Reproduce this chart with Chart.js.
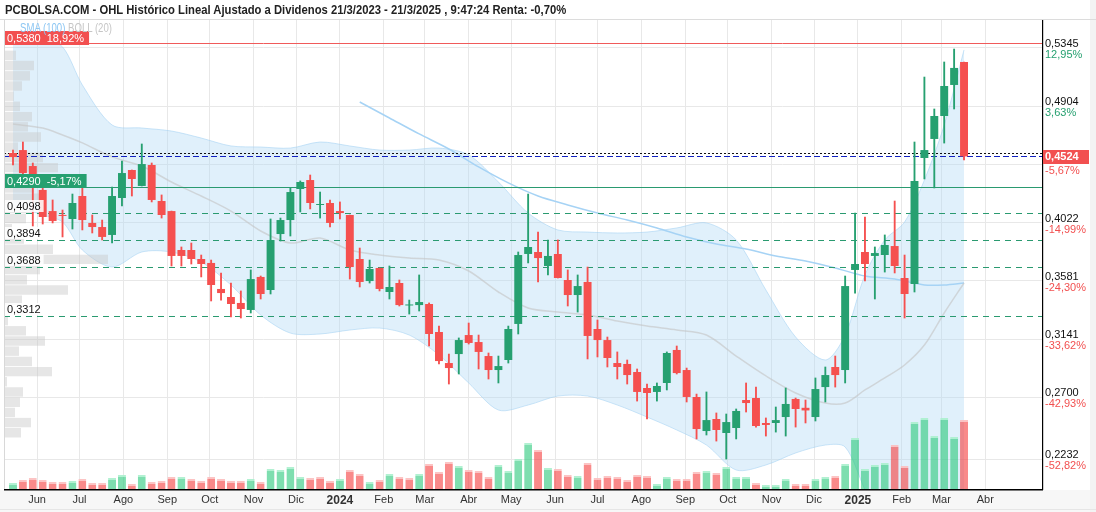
<!DOCTYPE html>
<html><head><meta charset="utf-8">
<script src="https://cdn.jsdelivr.net/npm/chart.js@4.4.1/dist/chart.umd.min.js"></script>
<style>
html,body{margin:0;padding:0;background:#fff;}
#wrap{position:relative;width:1096px;height:512px;overflow:hidden;}
#c{position:absolute;left:0;top:0;}
#header{position:absolute;left:0;top:0;width:1096px;height:20px;border-bottom:1px solid #dcdcdc;box-sizing:border-box;padding-left:5px;
 font:bold 13px "Liberation Sans",Arial,sans-serif;color:#222;line-height:20px;white-space:nowrap;}
#header span{display:inline-block;transform:scaleX(0.866);transform-origin:0 50%;}
#legend{position:absolute;left:20px;top:21px;font:12px "Liberation Sans",Arial,sans-serif;line-height:14px;white-space:nowrap;transform:scaleX(0.8);transform-origin:0 50%;}
</style></head>
<body><div id="wrap">
<canvas id="c" width="1096" height="512" style="width:1096px;height:512px"></canvas>
<div id="header"><span>PCBOLSA.COM - OHL Histórico Lineal Ajustado a Dividenos 21/3/2023 - 21/3/2025 , 9:47:24 Renta: -0,70%</span></div>
<div id="legend"><span style="color:#8cc6f3">SMA (100)</span> <span style="color:#c6c6c6">BOLL (20)</span></div>
</div>
<script>
// ---------- DATA ----------
const weeks = ['2023-05-15','2023-05-22','2023-05-29','2023-06-05','2023-06-12','2023-06-19','2023-06-26','2023-07-03','2023-07-10','2023-07-17',
'2023-07-24','2023-07-31','2023-08-07','2023-08-14','2023-08-21','2023-08-28','2023-09-04','2023-09-11','2023-09-18','2023-09-25',
'2023-10-02','2023-10-09','2023-10-16','2023-10-23','2023-10-30','2023-11-06','2023-11-13','2023-11-20','2023-11-27','2023-12-04',
'2023-12-11','2023-12-18','2023-12-25','2024-01-01','2024-01-08','2024-01-15','2024-01-22','2024-01-29','2024-02-05','2024-02-12',
'2024-02-19','2024-02-26','2024-03-04','2024-03-11','2024-03-18','2024-03-25','2024-04-01','2024-04-08','2024-04-15','2024-04-22',
'2024-04-29','2024-05-06','2024-05-13','2024-05-20','2024-05-27','2024-06-03','2024-06-10','2024-06-17','2024-06-24','2024-07-01',
'2024-07-08','2024-07-15','2024-07-22','2024-07-29','2024-08-05','2024-08-12','2024-08-19','2024-08-26','2024-09-02','2024-09-09',
'2024-09-16','2024-09-23','2024-09-30','2024-10-07','2024-10-14','2024-10-21','2024-10-28','2024-11-04','2024-11-11','2024-11-18',
'2024-11-25','2024-12-02','2024-12-09','2024-12-16','2024-12-23','2024-12-30','2025-01-06','2025-01-13','2025-01-20','2025-01-27',
'2025-02-03','2025-02-10','2025-02-17','2025-02-24','2025-03-03','2025-03-10','2025-03-17'];

const open = [.4550,.4572,.4451,.4270,.4110,.4080,.4050,.4224,.4020,.3989,
 .3929,.4209,.4421,.4300,.4459,.4186,.4110,.3815,.3815,.3747,
 .3717,.3520,.3459,.3414,.3361,.3611,.3512,.3936,.4042,.4277,
 .4345,.4156,.4171,.4110,.4080,.3747,.3580,.3679,.3497,.3565,
 .3395,.3398,.3406,.3194,.2959,.3027,.3171,.3118,.3012,.2906,
 .2982,.3255,.3785,.3800,.3694,.3785,.3588,.3474,.3573,.3217,
 .3133,.2959,.2952,.2891,.2770,.2740,.2808,.3058,.2906,.2702,
 .2444,.2535,.2429,.2467,.2679,.2694,.2505,.2505,.2550,.2687,
 .2620,.2550,.2777,.2929,.2906,.3664,.3800,.3770,.3777,.3845,
 .3603,.3558,.4512,.4656,.4830,.5065,.5239];
const high = [.4572,.4633,.4474,.4307,.4194,.4118,.4239,.4285,.4080,.4042,
 .4292,.4489,.4421,.4618,.4474,.4232,.4110,.3838,.3868,.3777,
 .3739,.3641,.3565,.3505,.3664,.3618,.4050,.4057,.4285,.4338,
 .4383,.4254,.4194,.4179,.4080,.3830,.3739,.3679,.3694,.3588,
 .3436,.3626,.3414,.3239,.3027,.3149,.3262,.3171,.3035,.3012,
 .3239,.3800,.4239,.3951,.3891,.3891,.3664,.3626,.3686,.3285,
 .3156,.3043,.2982,.2914,.2800,.2808,.3043,.3088,.2921,.2724,
 .2740,.2581,.2573,.2611,.2808,.2777,.2543,.2626,.2770,.2694,
 .2679,.2846,.2929,.3012,.3618,.4095,.4065,.3838,.3929,.4186,
 .3777,.4633,.5125,.4883,.5239,.5337,.5239];
const low = [.4459,.4383,.3997,.4012,.4020,.3914,.3974,.3967,.3944,.3891,
 .3868,.4148,.4224,.4300,.4179,.4057,.3694,.3694,.3709,.3611,
 .3429,.3436,.3308,.3300,.3338,.3444,.3482,.3883,.3921,.4103,
 .4126,.4057,.3989,.4050,.3595,.3535,.3565,.3505,.3444,.3391,
 .3330,.3353,.3088,.2952,.2800,.2876,.3103,.2914,.2838,.2808,
 .2959,.3179,.3717,.3573,.3626,.3603,.3391,.3345,.2990,.3005,
 .2929,.2838,.2800,.2671,.2535,.2671,.2755,.2876,.2664,.2384,
 .2414,.2368,.2232,.2384,.2588,.2474,.2406,.2436,.2406,.2474,
 .2505,.2520,.2664,.2777,.2808,.3489,.3580,.3444,.3648,.3641,
 .3300,.3497,.4353,.4285,.4625,.4883,.4497];
const close = [.4519,.4398,.4323,.4065,.4035,.4073,.4171,.4042,.3989,.3914,
 .4224,.4398,.4353,.4466,.4194,.4080,.3770,.3770,.3747,.3709,
 .3550,.3489,.3406,.3368,.3595,.3482,.3891,.4042,.4254,.4330,
 .4171,.4163,.4020,.4095,.3686,.3573,.3671,.3520,.3535,.3398,
 .3400,.3421,.3179,.2974,.2921,.3133,.3111,.3043,.2906,.2936,
 .3217,.3777,.3838,.3754,.3770,.3603,.3474,.3542,.3164,.3133,
 .2997,.2929,.2868,.2740,.2732,.2785,.3035,.2883,.2702,.2459,
 .2527,.2452,.2512,.2596,.2656,.2482,.2490,.2527,.2649,.2611,
 .2600,.2762,.2868,.2868,.3542,.3709,.3709,.3792,.3853,.3694,
 .3482,.4338,.4572,.4830,.5057,.5194,.4524];
const volume = [6,9,11,9,7,7,8,10,6,6,
 11,14,5,14,7,8,12,12,10,8,
 12,10,8,8,10,7,20,19,22,12,
 11,12,8,10,19,15,7,9,15,12,
 11,15,25,17,27,23,19,18,12,24,
 18,30,46,39,21,20,14,13,26,11,
 13,12,9,14,13,5,12,10,10,17,
 18,16,22,12,12,6,4,4,10,5,
 5,10,12,13,25,51,20,24,26,44,
 23,67,71,53,71,52,69];
const volumeUp = [1,0,0,0,0,0,1,0,0,0,
 1,1,0,1,0,0,0,1,0,0,
 0,0,0,0,1,0,1,1,1,1,
 0,0,0,1,0,0,1,0,1,0,
 0,1,0,0,0,1,0,0,0,1,
 1,1,1,0,1,0,0,1,0,0,
 0,0,0,0,0,1,1,0,0,0,
 1,0,1,1,1,0,1,1,1,0,
 0,1,1,0,1,1,1,1,1,0,
 0,1,1,1,1,1,0];

// Bollinger (20) and SMA (100), read at sampled weeks (index into weeks)
const bandWeek = [0,3,5,7,10,13,16,19,22,25,28,31,34,37,40,43,46,49,52,55,58,61,64,67,70,73,76,79,82,84,86,88,90,92,94,96];
const bollUpper = [.5421,.5406,.5353,.5065,.4762,.4739,.4716,.4663,.4603,.4595,.4587,.4633,.4603,.4572,.4572,.4587,.4535,.4330,.4095,.3967,.3951,.3944,.3951,.3982,.4020,.3891,.3512,.3156,.2982,.3171,.3626,.3891,.4027,.4345,.4762,.5330];
const bollLower = [.4156,.4080,.4027,.3815,.3686,.3800,.3800,.3724,.3550,.3323,.3186,.3179,.3209,.3224,.3171,.3020,.2808,.2603,.2641,.2709,.2709,.2641,.2550,.2452,.2338,.2149,.2187,.2278,.2338,.2323,.2000,.1700,.1650,.1700,.1750,.1650];
const bollMid = [.4769,.4739,.4686,.4626,.4520,.4451,.4330,.4224,.4110,.3959,.3868,.3906,.3815,.3777,.3754,.3739,.3656,.3497,.3376,.3345,.3323,.3277,.3239,.3209,.3171,.3012,.2861,.2732,.2656,.2656,.2755,.2846,.2944,.3095,.3338,.3565];
const smaWeek = [35,38,41,44,47,50,53,56,59,62,65,68,71,74,77,80,83,86,89,92,94,96];
const sma100 = [.4936,.4815,.4694,.4580,.4444,.4323,.4224,.4156,.4095,.4042,.3982,.3914,.3861,.3823,.3770,.3732,.3679,.3618,.3595,.3550,.3550,.3565];

// Volume-at-price profile
const profPrice = [.5289,.5212,.5134,.5057,.4980,.4903,.4825,.4748,.4671,.4594,.4516,.4439,.4362,.4285,.4207,.4130,.4053,.3976,.3898,.3821,.3744,.3667,.3589,.3512,.3435,.3358,.3280,.3203,.3126,.3049,.2971,.2894,.2817,.2740,.2662,.2585,.2508,.2431];
const profVol = [12,30,26,18,10,16,28,24,37,14,39,54,20,30,40,30,22,8,20,49,104,36,23,64,18,0,4,22,41,15,28,48,3,19,16,11,27,17];

// Axis ticks
const priceTicks = [0.5345,0.4904,0.4463,0.4022,0.3581,0.3141,0.2700,0.2232];
const pctTicks = ['12,95%','3,63%','-5,67%','-14,99%','-24,30%','-33,62%','-42,93%','-52,82%'];
const monthTicks = ['2023-06-01','2023-07-01','2023-08-01','2023-09-01','2023-10-01','2023-11-01','2023-12-01','2024-01-01','2024-02-01','2024-03-01','2024-04-01','2024-05-01','2024-06-01','2024-07-01','2024-08-01','2024-09-01','2024-10-01','2024-11-01','2024-12-01','2025-01-01','2025-02-01','2025-03-01','2025-04-01'];
const monthLabels = ['Jun','Jul','Ago','Sep','Oct','Nov','Dic','2024','Feb','Mar','Abr','May','Jun','Jul','Ago','Sep','Oct','Nov','Dic','2025','Feb','Mar','Abr'];

// Reference levels
const lastPrice = 0.4524;
const prevLevel = 0.4550;
const resistance = 0.5380, resistancePct = '18,92%';
const keyLevel = 0.4290, keyLevelPct = '-5,17%';
const supports = [0.4098, 0.3894, 0.3688, 0.3312];

// ---------- CHART ----------
const GREEN = '#26a070', RED = '#f5504f';
const T0 = Date.parse(weeks[0] + 'T00:00:00Z');
const dayOf = s => (Date.parse(s + 'T00:00:00Z') - T0) / 86400000;
const xs = weeks.map(dayOf);
const up = close.map((c, i) => c >= open[i]);
const fmt = v => v.toFixed(4).replace('.', ',');
const FONT = '"Liberation Sans", Arial, sans-serif';

const yMin = 0.2005, yMax = 0.5557;
const xMin = -6.36, xMax = 727.1;

const datasets = [
  { type:'bar', label:'body', order:1, grouped:false, data: xs.map((x,i)=>({x, y:[open[i], close[i]]})),
    backgroundColor: up.map(u=>u?GREEN:RED), borderWidth:0, barPercentage:0.8, categoryPercentage:1, minBarLength:1 },
  { type:'bar', label:'wick', order:2, grouped:false, data: xs.map((x,i)=>({x, y:[low[i], high[i]]})),
    backgroundColor: up.map(u=>u?GREEN:RED), borderWidth:0, barThickness:1.2 },
  { type:'bar', label:'volume', order:7, grouped:false, yAxisID:'yVol', data: xs.map((x,i)=>({x, y:volume[i]})),
    backgroundColor: volumeUp.map(u=>u?'rgba(40,200,122,0.6)':'rgba(245,60,60,0.6)'),
    borderColor: volumeUp.map(u=>u?'rgba(170,240,205,0.9)':'rgba(252,190,190,0.9)'),
    borderWidth:{top:2,left:0,right:0,bottom:0}, borderSkipped:'start', barPercentage:0.8, categoryPercentage:1 },
  { type:'bar', label:'profile', order:8, grouped:false, indexAxis:'y', xAxisID:'xProf', yAxisID:'yProf',
    data: profPrice.map((p,i)=>({x: profVol[i], y: p})),
    backgroundColor:'rgba(200,200,200,0.45)', borderWidth:0, barPercentage:0.93, categoryPercentage:1 },
  { type:'line', label:'bollUpper', order:10, data: bandWeek.map((w,i)=>({x: xs[w], y: bollUpper[i]})),
    borderColor:'rgba(160,208,242,0.55)', borderWidth:1, pointRadius:0, tension:0.3, fill:'+1', backgroundColor:'rgba(173,216,245,0.38)' },
  { type:'line', label:'bollLower', order:10, data: bandWeek.map((w,i)=>({x: xs[w], y: bollLower[i]})),
    borderColor:'rgba(160,208,242,0.55)', borderWidth:1, pointRadius:0, tension:0.3, fill:false },
  { type:'line', label:'bollMid', order:9, data: bandWeek.map((w,i)=>({x: xs[w], y: bollMid[i]})),
    borderColor:'rgba(195,195,195,0.6)', borderWidth:1.5, pointRadius:0, tension:0.3, fill:false },
  { type:'line', label:'sma100', order:9, data: smaWeek.map((w,i)=>({x: xs[w], y: sma100[i]})),
    borderColor:'#a6d3f5', borderWidth:1.5, pointRadius:0, tension:0.3, fill:false }
];

const hLine = (ctx, area, y, color, dash, w) => {
  ctx.save(); ctx.strokeStyle = color; ctx.lineWidth = w; ctx.setLineDash(dash);
  ctx.beginPath(); ctx.moveTo(area.left, Math.round(y)+0.5); ctx.lineTo(area.right, Math.round(y)+0.5); ctx.stroke(); ctx.restore();
};

const decor = {
  id:'decor',
  beforeDraw(chart){
    const {ctx, chartArea:a} = chart;
    ctx.save();
    ctx.fillStyle = '#fff'; ctx.fillRect(0,0,chart.width,chart.height);
    ctx.fillStyle = '#f7f7f7'; ctx.fillRect(0, a.bottom+1, chart.width, chart.height-a.bottom);
    ctx.fillStyle = '#f3f3f3'; ctx.fillRect(1090, 0, 6, chart.height);
    ctx.fillStyle = '#e6e6e6'; ctx.fillRect(0, chart.height-3, chart.width, 1);
    ctx.restore();
  },
  beforeDatasetDraw(chart, args){
    if (args.index !== 1) return;
    const {ctx, chartArea:a} = chart, y = chart.scales.y;
    supports.forEach(v => hLine(ctx, a, y.getPixelForValue(v), '#2a9a70', [6,5], 1));
    hLine(ctx, a, y.getPixelForValue(keyLevel), '#2a9a70', [], 1.2);
    hLine(ctx, a, y.getPixelForValue(resistance), '#f05a5a', [], 1);
    hLine(ctx, a, y.getPixelForValue(prevLevel), '#111', [2,2], 1);
    hLine(ctx, a, y.getPixelForValue(lastPrice), '#1020c0', [6,3], 1);
  },
  afterDatasetsDraw(chart){
    const {ctx, chartArea:a} = chart, y = chart.scales.y;
    ctx.save();
    ctx.font = '11px ' + FONT; ctx.textBaseline = 'middle';
    supports.forEach(v => {
      const py = Math.round(y.getPixelForValue(v));
      const t = fmt(v), w = ctx.measureText(t).width;
      ctx.fillStyle = 'rgba(255,255,255,0.85)'; ctx.fillRect(a.left+1, py-13, w+5, 12);
      ctx.fillStyle = '#111'; ctx.fillText(t, a.left+3, py-6.5);
    });
    const box = (v, pct, color, dy) => {
      const py = Math.round(y.getPixelForValue(v)) + dy;
      const t = fmt(v) + '  ' + pct, w = ctx.measureText(t).width;
      ctx.fillStyle = color; ctx.fillRect(a.left, py-14, w+8, 14);
      ctx.fillStyle = '#fff'; ctx.fillText(t, a.left+3, py-6.5);
    };
    box(resistance, resistancePct, '#f25050', 2);
    box(keyLevel, keyLevelPct, '#26a070', 1);
    // borders
    ctx.fillStyle = '#000';
    ctx.fillRect(Math.round(a.right), a.top, 1.2, a.bottom - a.top + 1);
    ctx.fillRect(a.left, Math.round(a.bottom), a.right - a.left + 1, 1.5);
    ctx.fillStyle = '#d8d8d8';
    ctx.fillRect(Math.round(a.left), a.top, 1, a.bottom - a.top);
    // right axis labels
    priceTicks.forEach((v,k) => {
      const py = y.getPixelForValue(v);
      if (Math.abs(v - lastPrice) > 0.012) { ctx.fillStyle = '#111'; ctx.fillText(fmt(v), a.right+3, py-4); }
      ctx.fillStyle = pctTicks[k].startsWith('-') ? '#f25050' : '#26a070';
      ctx.fillText(pctTicks[k], a.right+3, py+7);
    });
    const lp = y.getPixelForValue(lastPrice);
    ctx.fillStyle = '#f25050'; ctx.fillRect(a.right+1, Math.round(lp)-6, 46, 14);
    ctx.fillStyle = '#fff'; ctx.font = 'bold 11px ' + FONT; ctx.fillText(fmt(lastPrice), a.right+3, Math.round(lp)+1);
    ctx.restore();
  }
};

new Chart(document.getElementById('c'), {
  type:'bar',
  data:{ datasets },
  options:{
    responsive:false, animation:false, devicePixelRatio:1, events:[],
    layout:{ padding:{ top:20, left:4, right:0, bottom:0 } },
    plugins:{ legend:{display:false}, tooltip:{enabled:false}, title:{display:false} },
    scales:{
      x:{ type:'linear', min:xMin, max:xMax, offset:false,
        afterBuildTicks: s => { s.ticks = monthTicks.map(d => ({value: dayOf(d)})); },
        ticks:{ autoSkip:false, maxRotation:0, padding:4, color:'#333',
          callback:(v,i) => monthLabels[i],
          font: c => ({ family: FONT, size: /^\d{4}$/.test(monthLabels[c.index]||'') ? 12 : 11, weight: /^\d{4}$/.test(monthLabels[c.index]||'') ? 'bold' : 'normal' }) },
        grid:{ color:'#e8e8e8', drawTicks:false, lineWidth:1, offset:false },
        border:{ display:false },
        afterFit: s => { s.height = 23; } },
      y:{ type:'linear', position:'right', min:yMin, max:yMax,
        afterBuildTicks: s => { s.ticks = priceTicks.map(v => ({value:v})); },
        ticks:{ display:false },
        grid:{ color:'#e8e8e8', drawTicks:false },
        border:{ display:false },
        afterFit: s => { s.width = 54; } },
      yVol:{ type:'linear', display:false, min:0, max:469, offset:false },
      yProf:{ type:'linear', display:false, min:yMin, max:yMax, offset:false },
      xProf:{ type:'linear', display:false, min:0, max:1038, offset:false, grid:{offset:false} }
    }
  },
  plugins:[decor]
});
</script>
</body></html>
